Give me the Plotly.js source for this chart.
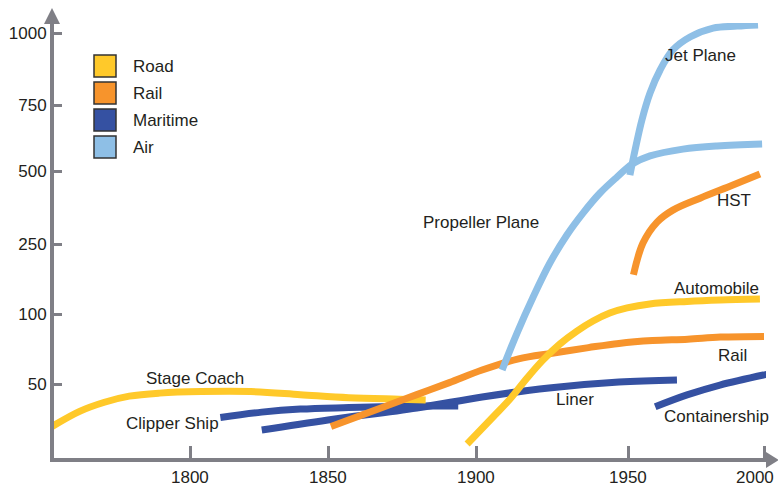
<!DOCTYPE html>
<html><head><meta charset="utf-8">
<script src="https://cdn.plot.ly/plotly-3.0.1.min.js"></script>
<style>html,body{margin:0;padding:0;background:#fff}#chart{width:778px;height:487px}</style>
</head><body><div id="chart"></div>
<script>
// ---------------- DATA (years, speed in km/h) ----------------
const categories = ['Road', 'Rail', 'Maritime', 'Air'];

const stageCoachYears = [1750, 1760, 1769, 1778, 1789, 1804, 1822, 1840, 1857, 1874, 1883];
const stageCoachSpeed = [22, 32, 38, 42, 44, 45, 45, 43, 41, 40, 39.5];

const automobileYears = [1897, 1905.6, 1911.2, 1916.8, 1922, 1927.6, 1933.2, 1938.5, 1944, 1949.7, 1958, 1971.7, 1983.8, 1998.5];
const automobileSpeed = [10.5, 28.3, 40.1, 54.3, 67.1, 78.6, 87.8, 95, 102.1, 113, 121.6, 127, 130, 132];

const railYears = [1851, 1869, 1880, 1891, 1902, 1914, 1925, 1937, 1947, 1959, 1972, 1984, 2000];
const railSpeed = [22, 35, 43, 51, 60, 68, 72, 76, 79, 81, 82, 83.5, 84];

const hstYears = [1952, 1955.5, 1960.7, 1966.5, 1976.5, 1988.6, 1998.5];
const hstSpeed = [184, 253, 325, 366, 407, 452, 490];

const clipperYears = [1811, 1826, 1840, 1857, 1880, 1894];
const clipperSpeed = [28, 31.5, 33.5, 34.5, 35.5, 35.5];

const linerYears = [1826, 1850, 1880, 1902, 1924, 1947, 1968];
const linerSpeed = [19.7, 26.3, 34.2, 41.5, 47.4, 51.4, 52.9];

const containerYears = [1960, 1971.7, 1983.8, 2001.5];
const containerSpeed = [35, 42.8, 49.3, 57.1];

const propellerYears = [1908.6, 1913.5, 1918.8, 1924.3, 1929.9, 1935.2, 1940.8, 1946.4, 1951.5, 1958.1, 1970.2, 1982.7, 1999.3];
const propellerSpeed = [60, 86.4, 136.4, 209.3, 281, 356, 424.7, 479.5, 526, 557, 583, 595, 602];

const jetYears = [1950.7, 1952.6, 1955.1, 1958.1, 1961.8, 1966.5, 1972.8, 1981.3, 1990.1, 1997.8];
const jetSpeed = [486, 579.5, 693, 791.7, 871.5, 941, 986, 1017, 1024, 1028];

const xTickYears = [1800, 1850, 1900, 1950, 2000];
const yTickValues = [50, 100, 250, 500, 750, 1000];

// ---------------- SCALES (the reference axes are non-uniform) ----------------
const X_KNOT_YEARS = [1800, 1850, 1900, 1950, 2000];
const X_KNOT_POS   = [190, 328, 476, 628, 764];
const Y_KNOT_VALS  = [0, 50, 100, 250, 500, 750, 1000];
const Y_KNOT_POS   = [460, 384, 314, 244, 171, 105, 33];
function interp(v, xs, ys) {
  let i = 0;
  if (v >= xs[xs.length - 1]) i = xs.length - 2;
  else if (v > xs[0]) { while (v > xs[i + 1]) i++; }
  const t = (v - xs[i]) / (xs[i + 1] - xs[i]);
  return ys[i] + t * (ys[i + 1] - ys[i]);
}
const xPos = y => interp(y, X_KNOT_YEARS, X_KNOT_POS);
const yPos = v => interp(v, Y_KNOT_VALS, Y_KNOT_POS);

// ---------------- STYLE ----------------
const COLORS = { Road: '#FFC92A', Rail: '#F7942C', Maritime: '#3551A2', Air: '#8EBFE6' };
const AXIS = '#7f7f86';
const TEXT = '#231f20';
const FONT = 'Liberation Sans, Arial, sans-serif';
const LW = 7;

function line(years, speeds, cat) {
  return {
    type: 'scatter', mode: 'lines',
    x: years.map(xPos), y: speeds.map(yPos),
    line: { color: COLORS[cat], width: LW, shape: 'spline', smoothing: 1 },
    hoverinfo: 'skip', showlegend: false, name: cat
  };
}

const traces = [
  line(clipperYears, clipperSpeed, 'Maritime'),
  line(linerYears, linerSpeed, 'Maritime'),
  line(containerYears, containerSpeed, 'Maritime'),
  line(stageCoachYears, stageCoachSpeed, 'Road'),
  line(railYears, railSpeed, 'Rail'),
  line(hstYears, hstSpeed, 'Rail'),
  line(automobileYears, automobileSpeed, 'Road'),
  line(propellerYears, propellerSpeed, 'Air'),
  line(jetYears, jetSpeed, 'Air')
];

// series labels (year, speed)
const seriesLabels = [
  { text: 'Stage Coach', year: 1801.8, v: 53.6 },
  { text: 'Clipper Ship', year: 1793.8, v: 24.3 },
  { text: 'Liner', year: 1932.6, v: 40.1 },
  { text: 'Containership', year: 1982.7, v: 28.3 },
  { text: 'Rail', year: 1988.6, v: 70.7 },
  { text: 'Automobile', year: 1982.4, v: 155.7 },
  { text: 'HST', year: 1989, v: 400.7 },
  { text: 'Propeller Plane', year: 1901.6, v: 322 },
  { text: 'Jet Plane', year: 1976.5, v: 923.6 }
];

// plot area in pixels
const ML = 54, MR = 12, MT = 23, MB = 29, W = 778, H = 487;
const px = x => (x - ML) / (W - ML - MR);
const py = y => (H - MB - y) / (H - MB - MT);

const annotations = seriesLabels.map(l => ({
  x: xPos(l.year), y: yPos(l.v), text: l.text, showarrow: false,
  xanchor: 'center', yanchor: 'middle', font: { family: FONT, size: 17, color: TEXT }
}));

// x tick labels (the last one sits left of its tick in the reference)
xTickYears.forEach((yr, i) => {
  const last = i === xTickYears.length - 1;
  annotations.push({ x: xPos(yr), xref: 'x', y: py(477), yref: 'paper', text: String(yr),
    showarrow: false, xanchor: 'center', yanchor: 'middle', xshift: last ? -9 : 0,
    font: { family: FONT, size: 17, color: TEXT } });
});

const shapes = [];
categories.forEach((c, i) => {
  const cy = 66 + i * 27;
  shapes.push({ type: 'rect', xref: 'x', yref: 'y', x0: 94, x1: 116, y0: cy - 11, y1: cy + 11,
    fillcolor: COLORS[c], line: { color: '#333', width: 1.5 } });
  annotations.push({ x: 131, y: cy, xref: 'x', yref: 'y', text: c, showarrow: false,
    xanchor: 'left', yanchor: 'middle', font: { family: FONT, size: 17, color: TEXT } });
});

// arrow heads on the axes
shapes.push({ type: 'path', xref: 'paper', yref: 'paper', layer: 'above',
  path: `M ${px(52)} ${py(8)} L ${px(44)} ${py(24)} L ${px(60)} ${py(24)} Z`,
  fillcolor: AXIS, line: { width: 0 } });
shapes.push({ type: 'path', xref: 'paper', yref: 'paper', layer: 'above',
  path: `M ${px(779)} ${py(460)} L ${px(766)} ${py(452)} L ${px(766)} ${py(468)} Z`,
  fillcolor: AXIS, line: { width: 0 } });

const layout = {
  width: W, height: H,
  margin: { l: ML, r: MR, t: MT, b: MB, pad: 0 },
  paper_bgcolor: '#fff', plot_bgcolor: '#fff',
  showlegend: false,
  xaxis: {
    range: [ML, W - MR], showgrid: false, zeroline: false, fixedrange: true,
    showline: true, linecolor: AXIS, linewidth: 4,
    tickmode: 'array', tickvals: xTickYears.map(xPos), showticklabels: false,
    ticks: 'inside', ticklen: 12, tickwidth: 3, tickcolor: AXIS
  },
  yaxis: {
    range: [H - MB, MT], showgrid: false, zeroline: false, fixedrange: true,
    showline: true, linecolor: AXIS, linewidth: 4,
    tickmode: 'array', tickvals: yTickValues.map(yPos), ticktext: yTickValues.map(String),
    ticks: 'inside', ticklen: 8, tickwidth: 3, tickcolor: AXIS,
    tickfont: { family: FONT, size: 17, color: TEXT }
  },
  shapes: shapes,
  annotations: annotations
};

Plotly.newPlot('chart', traces, layout, { displayModeBar: false, staticPlot: true });
</script>
</body></html>
